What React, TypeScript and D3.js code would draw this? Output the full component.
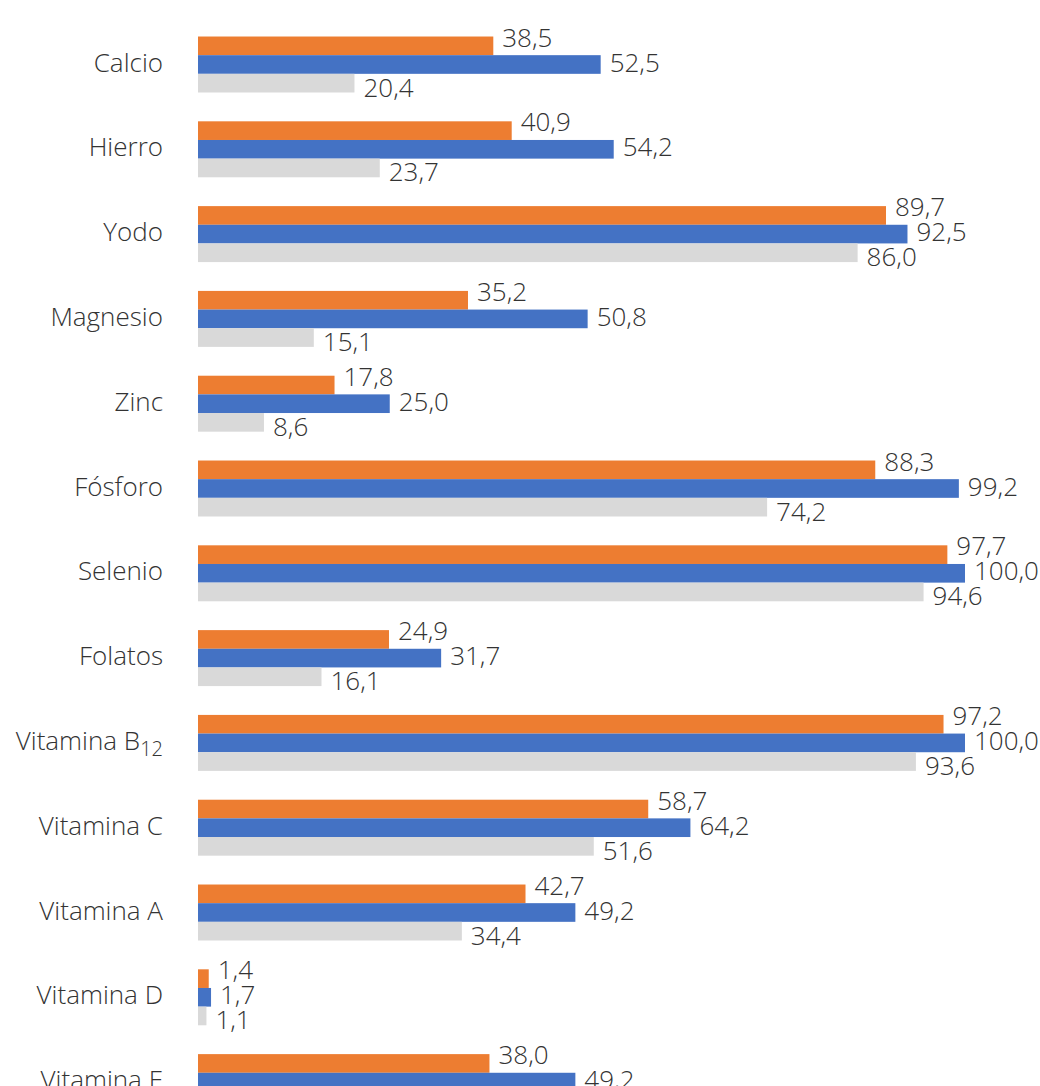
import React from "react";
import * as d3 from "d3";

const categories = ["Calcio", "Hierro", "Yodo", "Magnesio", "Zinc", "Fósforo", "Selenio", "Folatos", "Vitamina B12", "Vitamina C", "Vitamina A", "Vitamina D", "Vitamina E"];
const seriesOrange = [38.5, 40.9, 89.7, 35.2, 17.8, 88.3, 97.7, 24.9, 97.2, 58.7, 42.7, 1.4, 38.0];
const seriesBlue = [52.5, 54.2, 92.5, 50.8, 25.0, 99.2, 100.0, 31.7, 100.0, 64.2, 49.2, 1.7, 49.2];
const seriesGray = [20.4, 23.7, 86.0, 15.1, 8.6, 74.2, 94.6, 16.1, 93.6, 51.6, 34.4, 1.1, 30.0];

const seriesKeys = ["orange", "blue", "gray"];
const colors: Record<string, string> = { orange: "#ED7D31", blue: "#4472C4", gray: "#D9D9D9" };
const labelOffsets: Record<string, number> = { orange: -27, blue: -2, gray: 23 };

const W = 1040;
const H = 1086;
const step = 84.8;
const c0 = 64.5;

export default function App() {
  const x = d3.scaleLinear().domain([0, 100]).range([198, 965]);
  const y = d3
    .scaleBand<string>()
    .domain(categories)
    .range([c0 - step / 2, c0 - step / 2 + categories.length * step])
    .paddingInner(0.34)
    .paddingOuter(0.17);
  const inner = d3.scaleBand<string>().domain(seriesKeys).range([0, y.bandwidth()]);
  const data: Record<string, number[]> = { orange: seriesOrange, blue: seriesBlue, gray: seriesGray };
  const font = "'Open Sans', sans-serif";
  const textColor = "#333333";

  return (
    <svg width={W} height={H} style={{ position: "absolute", left: 0, top: 0, background: "#fff" }}>
      {categories.map((cat, i) => {
        const y0 = y(cat)!;
        const center = y0 + y.bandwidth() / 2;
        const isB12 = cat === "Vitamina B12";
        return (
          <g key={cat}>
            <text
              x={163}
              y={center - 2}
              dy="0.35em"
              textAnchor="end"
              fontFamily={font}
              fontWeight={300}
              fontSize={26}
              fill={textColor}
            >
              {isB12 ? (
                <>
                  Vitamina B<tspan fontSize={20} dy={6}>12</tspan>
                </>
              ) : (
                cat
              )}
            </text>
            {seriesKeys.map((k) => {
              const v = data[k][i];
              const by = y0 + inner(k)!;
              return (
                <g key={k}>
                  <rect x={x(0)} y={by} width={x(v) - x(0)} height={inner.bandwidth()} fill={colors[k]} />
                  <text
                    x={x(v) + 9}
                    y={center + labelOffsets[k]}
                    dy="0.35em"
                    fontFamily={font}
                    fontWeight={300}
                    fontSize={26}
                    fill={textColor}
                  >
                    {v.toFixed(1).replace(".", ",")}
                  </text>
                </g>
              );
            })}
          </g>
        );
      })}
    </svg>
  );
}
